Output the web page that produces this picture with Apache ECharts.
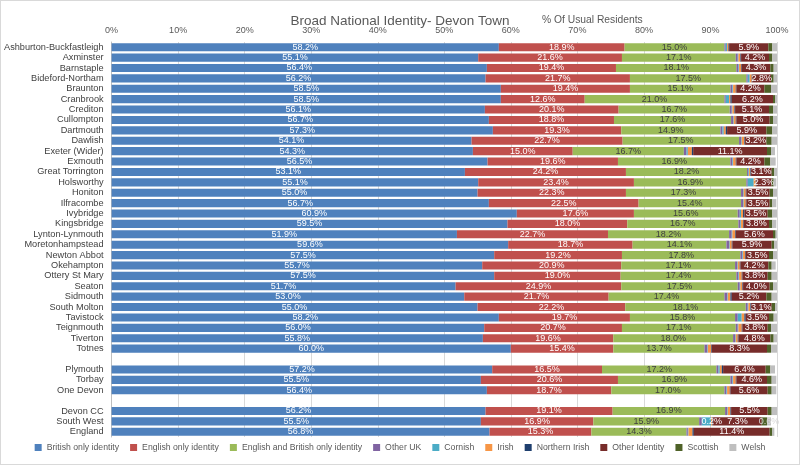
<!DOCTYPE html>
<html>
<head>
<meta charset="utf-8">
<script src="https://cdn.jsdelivr.net/npm/echarts@6/dist/echarts.min.js"></script>
<style>
html,body{margin:0;padding:0;background:#fff;}
#wrap{width:798px;height:463px;border:1px solid #d9d9d9;}
#chart{width:798px;height:463px;}
</style>
</head>
<body>
<div id="wrap"><div id="chart"></div></div>
<script>
var categories = ['Ashburton-Buckfastleigh','Axminster','Barnstaple','Bideford-Northam','Braunton','Cranbrook','Crediton','Cullompton','Dartmouth','Dawlish','Exeter (Wider)','Exmouth','Great Torrington','Holsworthy','Honiton','Ilfracombe','Ivybridge','Kingsbridge','Lynton-Lynmouth','Moretonhampstead','Newton Abbot','Okehampton','Ottery St Mary','Seaton','Sidmouth','South Molton','Tavistock','Teignmouth','Tiverton','Totnes',' ','Plymouth','Torbay','One Devon','  ','Devon CC','South West','England'];

var britishOnly = [58.2,55.1,56.4,56.2,58.5,58.5,56.1,56.7,57.3,54.1,54.3,56.5,53.1,55.1,55.0,56.7,60.9,59.5,51.9,59.6,57.5,55.7,57.5,51.7,53.0,55.0,58.2,56.0,55.8,60.0,null,57.2,55.5,56.4,null,56.2,55.5,56.8];
var englishOnly = [18.9,21.6,19.4,21.7,19.4,12.6,20.1,18.8,19.3,22.7,15.0,19.6,24.2,23.4,22.3,22.5,17.6,18.0,22.7,18.7,19.2,20.9,19.0,24.9,21.7,22.2,19.7,20.7,19.6,15.4,null,16.5,20.6,18.7,null,19.1,16.9,15.3];
var englishBritish = [15.0,17.1,18.1,17.5,15.1,21.0,16.7,17.6,14.9,17.5,16.7,16.9,18.2,16.9,17.3,15.4,15.6,16.7,18.2,14.1,17.8,17.1,17.4,17.5,17.4,18.1,15.8,17.1,18.0,13.7,null,17.2,16.9,17.0,null,16.9,15.9,14.3];
var otherUK = [0.2,0.3,0.3,0.2,0.3,0.2,0.3,0.3,0.3,0.3,0.4,0.3,0.2,0.2,0.3,0.3,0.3,0.3,0.4,0.4,0.3,0.3,0.3,0.3,0.4,0.3,0.4,0.3,0.3,0.4,null,0.3,0.3,0.3,null,0.3,0.4,0.2];
var cornish = [0.2,0.1,0.1,0.3,0.1,0.5,0.1,0.1,0.2,0.1,0.2,0.1,0.1,0.9,0.1,0.1,0.2,0.1,0.1,0.1,0.1,0.1,0.1,0.1,0.1,0.1,0.6,0.1,0.1,0.1,null,0.2,0.1,0.1,null,0.1,1.4,0.1];
var irish = [0.2,0.3,0.3,0.3,0.4,0.2,0.3,0.3,0.3,0.4,0.6,0.4,0.2,0.3,0.3,0.3,0.3,0.3,0.4,0.3,0.3,0.3,0.4,0.3,0.4,0.3,0.4,0.5,0.3,0.5,null,0.3,0.4,0.4,null,0.4,0.2,0.6];
var northernIrish = [0.1,0.1,0.1,0.1,0.1,0.2,0.1,0.1,0.2,0.1,0.2,0.1,0.1,0.1,0.1,0.1,0.2,0.1,0.1,0.1,0.1,0.1,0.1,0.1,0.2,0.1,0.2,0.1,0.1,0.1,null,0.2,0.1,0.1,null,0.1,0.1,0.2];
var otherIdentity = [5.9,4.2,4.3,2.8,4.2,6.2,5.1,5.0,5.9,3.2,11.1,4.2,3.1,2.3,3.5,3.5,3.5,3.8,5.6,5.9,3.5,4.2,3.8,4.0,5.2,3.1,3.5,3.8,4.8,8.3,null,6.4,4.6,5.6,null,5.5,7.3,11.4];
var scottish = [0.6,0.5,0.5,0.4,1.0,0.3,0.6,0.5,0.9,0.8,0.6,0.9,0.4,0.3,0.5,0.4,0.7,0.5,0.4,0.4,0.6,0.5,0.6,0.5,0.8,0.5,0.7,0.5,0.5,0.6,null,0.7,0.7,0.6,null,0.6,0.8,0.4];
var welsh = [0.7,0.7,0.5,0.5,0.9,0.3,0.6,0.6,0.7,0.8,0.6,0.8,0.4,0.4,0.6,0.6,0.7,0.6,0.2,0.4,0.6,0.6,0.8,0.6,0.8,0.3,0.5,0.9,0.5,0.9,null,0.7,0.7,0.7,null,0.8,0.6,0.3];

var seriesNames = ['British only identity','English only identity','English and British only identity','Other UK','Cornish','Irish','Northern Irish','Other Identity','Scottish','Welsh'];
var seriesColors = ['#4F81BD','#C0504D','#9BBB59','#8064A2','#4BACC6','#F79646','#1F3F6E','#772C2A','#4F6228','#BFBFBF'];
var seriesData = [britishOnly,englishOnly,englishBritish,otherUK,cornish,irish,northernIrish,otherIdentity,scottish,welsh];
var labelColors = ['#ffffff','#ffffff','#404040',null,null,'#ffffff',null,'#ffffff',null,'#d9d9d9'];
var labelledRows = {5:['South West'], 9:['South West']};

var FONT = "'Liberation Sans',Arial,sans-serif";

function fmt(p){ return p.value == null ? '' : p.value.toFixed(1) + '%'; }

var series = seriesNames.map(function(name, si){
  var showAll = (si <= 2 || si === 7);
  var rows = labelledRows[si] || [];
  var data = seriesData[si].map(function(v, i){
    if (v == null) return null;
    if (!showAll && rows.indexOf(categories[i]) >= 0) {
      return {value: v, label: {show: true}};
    }
    return v;
  });
  return {
    name: name,
    type: 'bar',
    stack: 'total',
    barCategoryGap: '22%',
    itemStyle: {color: seriesColors[si]},
    z: si === 9 ? 3 : 2,
    label: {
      show: showAll,
      position: 'inside',
      formatter: fmt,
      color: labelColors[si] || '#404040',
      fontSize: 9,
      fontFamily: FONT
    },
    emphasis: {disabled: true},
    data: data
  };
});

var chart = echarts.init(document.getElementById('chart'));
chart.setOption({
  animation: false,
  textStyle: {fontFamily: FONT},
  title: [
    {text: 'Broad National Identity- Devon Town', left: 'center', top: 8,
     textStyle: {fontSize: 13.5, fontWeight: 'normal', color: '#595959', fontFamily: FONT}},
    {text: '% Of Usual Residents', left: 536, top: 9,
     textStyle: {fontSize: 10.3, fontWeight: 'normal', color: '#595959', fontFamily: FONT}}
  ],
  legend: {
    bottom: 7,
    left: 'center',
    itemWidth: 7,
    itemHeight: 7,
    itemGap: 11,
    icon: 'rect',
    textStyle: {fontSize: 8.7, color: '#595959', fontFamily: FONT},
    data: seriesNames
  },
  grid: {left: 109, right: 22, top: 41, bottom: 27},
  xAxis: {
    type: 'value',
    position: 'top',
    min: 0,
    max: 100,
    interval: 10,
    axisLabel: {formatter: '{value}%', color: '#595959', fontSize: 9, margin: 7, fontFamily: FONT},
    axisLine: {show: false},
    axisTick: {show: false},
    splitLine: {lineStyle: {color: '#d9d9d9'}}
  },
  yAxis: {
    type: 'category',
    inverse: true,
    data: categories,
    axisLabel: {color: '#404040', fontSize: 9.2, margin: 8, interval: 0, fontFamily: FONT},
    axisLine: {lineStyle: {color: '#bfbfbf'}},
    axisTick: {show: false}
  },
  series: series
});
</script>
</body>
</html>
